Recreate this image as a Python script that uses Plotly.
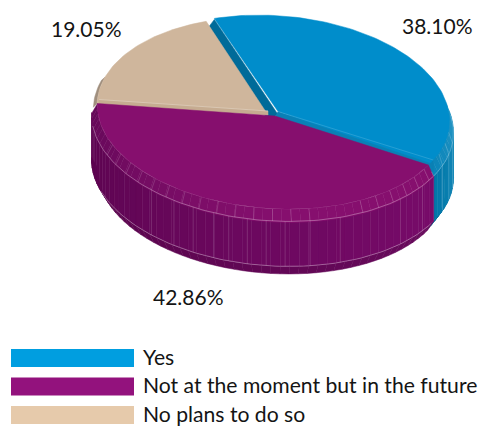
import math
import plotly.graph_objects as go

# Survey shares and their labels
categories = ["Yes", "Not at the moment but in the future", "No plans to do so"]
shares = [38.10, 42.86, 19.05]
legend_colors = ["#009EE0", "#93127D", "#E6CAAB"]

# Pie geometry: ellipse of the flat top, rim flare and depths of the drum
CX, CY, RX = 272.5, 113.5, 175.0
RY_BACK, RY_FRONT, SKEW = 97.0, 94.0, 0.05
RIM_R, RIM_Z = 1.034, 10.3
WALL_Z, FOOT_Z = 55.3, 66.5
START = 249.9

# Angles (degrees, clockwise from 3 o'clock) of each slice, taken from the shares
total = sum(shares)
sweeps = [s / total * 360 for s in shares]
blue_a, blue_b = START, START + sweeps[0]
purple_a, purple_b = blue_b - 360, blue_b - 360 + sweeps[1]
tan_a, tan_b = purple_b, purple_b + sweeps[2]


def pt(deg, r=1.0, z=0.0, dx=0.0, dy=0.0):
    t = math.radians(deg)
    s = math.sin(t)
    x_rel = RX * r * math.cos(t)
    ry = RY_FRONT if s > 0 else RY_BACK
    return (CX + dx + x_rel, CY + dy + ry * r * s + SKEW * x_rel + z)


def arc(a, b, r=1.0, z=0.0, dx=0.0, dy=0.0, step=1.5):
    n = max(2, int(abs(b - a) / step) + 1)
    return [pt(a + (b - a) * i / (n - 1), r, z, dx, dy) for i in range(n)]


def mix(c1, c2, f):
    a = [int(c1[i:i + 2], 16) for i in (1, 3, 5)]
    b = [int(c2[i:i + 2], 16) for i in (1, 3, 5)]
    return "rgb(%d,%d,%d)" % tuple(round(p + (q - p) * f) for p, q in zip(a, b))


fig = go.Figure()


def poly(points, color):
    fig.add_trace(go.Scatter(
        x=[p[0] for p in points] + [points[0][0]],
        y=[p[1] for p in points] + [points[0][1]],
        mode="lines", fill="toself", fillcolor=color,
        line=dict(color=color, width=0.5), hoverinfo="skip", showlegend=False))


def stroke(points, color, width=0.6):
    fig.add_trace(go.Scatter(
        x=[p[0] for p in points], y=[p[1] for p in points], mode="lines",
        line=dict(color=color, width=width), hoverinfo="skip", showlegend=False))


def band(a, b, r1, z1, r2, z2, c1, c2, dx=0.0, dy=0.0, step=3.0):
    """Shaded strip around the drum between two rings, from angle a to angle b."""
    n = max(1, int(abs(b - a) / step))
    for i in range(n):
        p = a + (b - a) * i / n
        q = a + (b - a) * (i + 1) / n
        poly(arc(p, q, r1, z1, dx, dy) + arc(q, p, r2, z2, dx, dy), mix(c1, c2, (i + 0.5) / n))


BLUE_DX, BLUE_DY = 2.0, 0.0
PURPLE_DX, PURPLE_DY = 0.0, 1.0
TAN_DX, TAN_DY = -0.5, 1.0
blue_apex = (278.0, 111.5)
purple_apex = (275.0, 116.0)
tan_apex = (268.0, 115.0)
blue_front = blue_b - 360

# Blue slice: drum side, rim, cut faces and top
band(-12, blue_front, 0.99, FOOT_Z, RIM_R, WALL_Z, "#0F86B6", "#00668F")
band(-12, blue_front, RIM_R, WALL_Z, RIM_R, RIM_Z, "#2394C2", "#0076A8")
band(-30, blue_front, RIM_R, RIM_Z, 1.0, 0, "#35A0CC", "#0A84B8")
for deg in (20, 13, 6):
    stroke([pt(deg, RIM_R, RIM_Z), pt(deg, RIM_R, WALL_Z)], "rgba(255,255,255,0.3)")
    stroke([pt(deg, RIM_R, RIM_Z), pt(deg, 1.0, 0, BLUE_DX)], "rgba(255,255,255,0.3)")
stroke(arc(-10, blue_front, RIM_R, RIM_Z), "rgba(255,255,255,0.4)")

corner = pt(blue_a, dx=BLUE_DX, dy=BLUE_DY)
poly([corner, (corner[0] - 6, corner[1] + 8), (268.0, 120.0), (blue_apex[0], blue_apex[1] + 3)], "#006B99")
end = pt(blue_b, dx=BLUE_DX, dy=BLUE_DY)
poly([(blue_apex[0] - 3, blue_apex[1] + 6), (end[0] + 3, end[1] + 8), (end[0] + 3, end[1] - 4), blue_apex], "#0A80B5")
poly([blue_apex] + arc(blue_a, blue_b, 1.0, 0, BLUE_DX, BLUE_DY - 1), "#008DCB")
stroke([blue_apex, (end[0] + 3, end[1] - 4)], "rgba(255,255,255,0.25)")

# Tan slice: thin visible side, front facet and top
poly(arc(tan_a, tan_a + 16, 1.024, 5) + arc(tan_a + 16, tan_a, 1.0, 0, TAN_DX, TAN_DY), "#A08F7E")
tan_arc = arc(tan_a, tan_b - 2, 1.0, 0, TAN_DX, TAN_DY)
poly([tan_apex] + tan_arc, "#CFB69C")
poly([(tan_apex[0], tan_apex[1] - 4), (tan_arc[0][0] + 2, tan_arc[0][1] - 4),
      (tan_arc[0][0] + 2, tan_arc[0][1] + 3), tan_apex], "#C6AC91")
stroke([(tan_apex[0], tan_apex[1] - 4), (tan_arc[0][0] + 2, tan_arc[0][1] - 4)], "rgba(235,225,212,0.8)")

# Purple slice: foot, side wall, rim and top
band(purple_b, purple_a, 0.995, FOOT_Z, RIM_R, WALL_Z, "#58034B", "#680A5C", PURPLE_DX, PURPLE_DY - 1)
band(purple_b, purple_a, RIM_R, WALL_Z, RIM_R, RIM_Z, "#5C0450", "#780B6A", PURPLE_DX, PURPLE_DY - 1)
band(purple_b, purple_a + 60, RIM_R, RIM_Z, 1.0, 0, "#640858", "#860F6E", PURPLE_DX, PURPLE_DY)
band(purple_a + 60, purple_a, RIM_R, RIM_Z, 1.0, 0, "#860F6E", "#860F6E", PURPLE_DX, PURPLE_DY)

LIGHT = "rgba(255,255,255,0.3)"
for deg in (132, 123, 116, 109, 104, 98, 92, 86, 78, 68, 45, 34):
    stroke([pt(deg, RIM_R, RIM_Z), pt(deg, RIM_R, WALL_Z)], LIGHT, 0.5)
for deg in list(range(156, 72, -6)) + list(range(60, 26, -6)):
    stroke([pt(deg, RIM_R, RIM_Z), pt(deg, 1.0, 0, dy=PURPLE_DY)], LIGHT, 0.5)
stroke(arc(purple_b - 8, purple_a, RIM_R, RIM_Z), "rgba(255,255,255,0.45)", 0.7)
stroke(arc(purple_b - 20, purple_a + 2, RIM_R, WALL_Z), "rgba(255,255,255,0.45)", 0.7)
stroke(arc(purple_b - 8, purple_a, 1.0, 0, dy=PURPLE_DY), "rgba(255,255,255,0.3)", 0.5)
poly([purple_apex] + arc(purple_a, purple_b, 1.0, 0, PURPLE_DX, PURPLE_DY), "#860F6E")

# Slice percentages
label_pos = [(437.5, 25.5), (188.5, 296.5), (86.5, 28.5)]
annotations = [
    dict(x=x, y=y, xref="x", yref="y", text=f"{v:.2f}%", showarrow=False,
         font=dict(family="Lato", size=21, color="#141414"), xanchor="center", yanchor="middle")
    for (x, y), v in zip(label_pos, shares)
]

# Legend rows: a wide swatch with its caption
shapes = []
for row, (name, color) in enumerate(zip(categories, legend_colors)):
    top = 349 + row * 28.5
    shapes.append(dict(type="rect", xref="x", yref="y", x0=11, x1=134, y0=top, y1=top + 18,
                       fillcolor=color, line=dict(width=0)))
    annotations.append(dict(x=140.8, y=top + 7.5, xref="x", yref="y", text=name, showarrow=False,
                            font=dict(family="Lato", size=21.15, color="#141414"),
                            xanchor="left", yanchor="middle"))

fig.update_layout(
    width=481, height=426, margin=dict(l=0, r=0, t=0, b=0),
    paper_bgcolor="white", plot_bgcolor="white", showlegend=False,
    xaxis=dict(range=[0, 481], visible=False, fixedrange=True),
    yaxis=dict(range=[426, 0], visible=False, fixedrange=True),
    shapes=shapes, annotations=annotations,
)
fig.write_html("out.html", config={"displayModeBar": False})
